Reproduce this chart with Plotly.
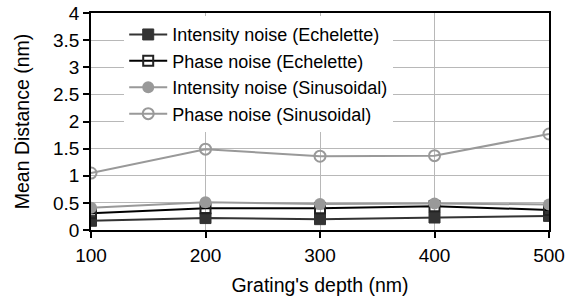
import plotly.graph_objects as go

depth = [100, 200, 300, 400, 500]
intensity_echelette = [0.17, 0.22, 0.20, 0.23, 0.26]
phase_echelette = [0.31, 0.40, 0.40, 0.44, 0.37]
intensity_sinusoidal = [0.41, 0.51, 0.48, 0.49, 0.47]
phase_sinusoidal = [1.05, 1.49, 1.36, 1.37, 1.77]

y_ticks = [0, 0.5, 1, 1.5, 2, 2.5, 3, 3.5, 4]
y_labels = ["0", "0.5", "1", "1.5", "2", "2.5", "3", "3.5", "4"]
x_ticks = [100, 200, 300, 400, 500]

FONT = "Liberation Sans, Arial, sans-serif"

fig = go.Figure()
fig.add_trace(go.Scatter(x=depth, y=intensity_echelette, name="Intensity noise (Echelette)",
                         mode="lines+markers",
                         line=dict(color="#333333", width=2),
                         marker=dict(symbol="square", size=11, color="#333333",
                                     line=dict(color="#333333", width=1))))
fig.add_trace(go.Scatter(x=depth, y=phase_echelette, name="Phase noise (Echelette)",
                         mode="lines+markers",
                         line=dict(color="#000000", width=2),
                         marker=dict(symbol="square-open", size=10, color="#222222",
                                     line=dict(width=2))))
fig.add_trace(go.Scatter(x=depth, y=intensity_sinusoidal, name="Intensity noise (Sinusoidal)",
                         mode="lines+markers",
                         line=dict(color="#999999", width=2),
                         marker=dict(symbol="circle", size=12, color="#999999")))
fig.add_trace(go.Scatter(x=depth, y=phase_sinusoidal, name="Phase noise (Sinusoidal)",
                         mode="lines+markers",
                         line=dict(color="#999999", width=2),
                         marker=dict(symbol="circle-open", size=11, color="#999999",
                                     line=dict(width=2))))

fig.update_layout(
    width=580, height=308,
    margin=dict(l=91, r=31, t=13, b=78, autoexpand=False),
    paper_bgcolor="white", plot_bgcolor="white",
    font=dict(family=FONT, size=18, color="#000000"),
    showlegend=True,
    legend=dict(x=0.0725, y=0.985, xanchor="left", yanchor="top",
                bgcolor="white", borderwidth=0, itemwidth=38,
                font=dict(family=FONT, size=18, color="#000000"),
                tracegroupgap=0),
    xaxis=dict(range=[100, 500], tickvals=x_ticks, ticktext=[str(v) for v in x_ticks],
               automargin=False,
               showline=True, linecolor="#000000", linewidth=1.5, mirror=True,
               ticks="outside", ticklen=6, tickcolor="#000000", tickwidth=1.5,
               ticklabelstandoff=1, ticklabeloverflow="allow",
               showgrid=True, gridcolor="#b8b8b8", gridwidth=1,
               zeroline=False,
               tickfont=dict(family=FONT, size=19),
               title=dict(text="Grating's depth (nm)", font=dict(family=FONT, size=19.5), standoff=14)),
    yaxis=dict(range=[0, 4], tickvals=y_ticks, ticktext=y_labels,
               automargin=False,
               showline=True, linecolor="#000000", linewidth=1.5, mirror=True,
               ticks="outside", ticklen=6, tickcolor="#000000", tickwidth=1.5,
               ticklabeloverflow="allow",
               showgrid=True, gridcolor="#b8b8b8", gridwidth=1,
               zeroline=False,
               tickfont=dict(family=FONT, size=19),
               title=dict(text="Mean Distance (nm)", font=dict(family=FONT, size=19.5), standoff=18)),
)

fig.write_html("out.html", config={"displayModeBar": False},
               post_script="document.body.style.margin='0';")
